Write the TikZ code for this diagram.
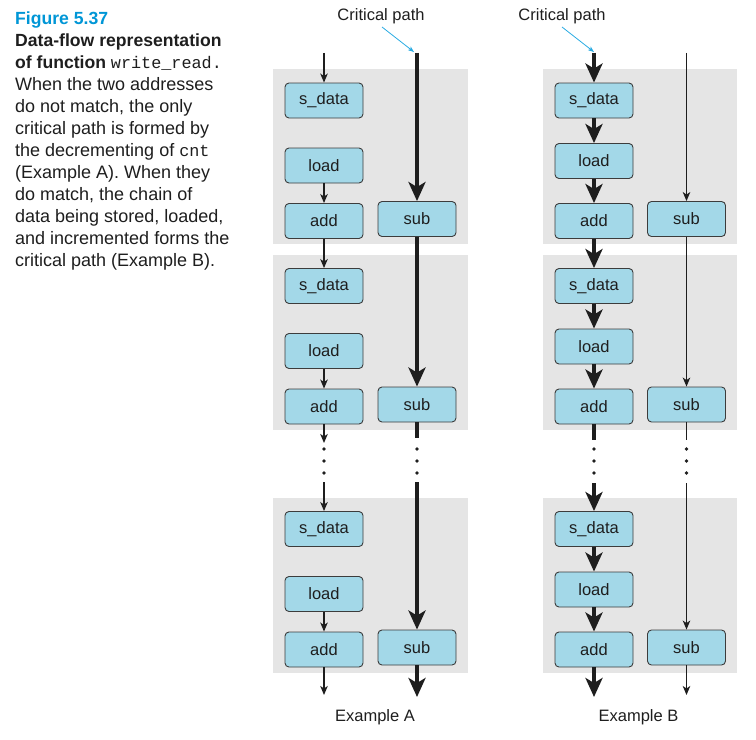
\documentclass[tikz,border=0pt]{standalone}
\usepackage{fontspec}
\setmainfont{Liberation Sans}
\newfontfamily\capmono{Liberation Mono}
\usetikzlibrary{arrows.meta}
\definecolor{boxfill}{RGB}{163,216,232}
\definecolor{panelgray}{RGB}{229,229,229}
\definecolor{figblue}{RGB}{0,150,214}
\definecolor{arrowblue}{RGB}{41,171,226}
\definecolor{boxborder}{RGB}{60,60,60}
\definecolor{ink}{RGB}{30,30,30}
\newcommand{\cmono}[1]{{\capmono\fontsize{16.8bp}{22bp}\selectfont #1}}
\tikzset{
  opbox/.style={draw=boxborder, fill=boxfill, rounded corners=4bp, minimum width=78bp,
    minimum height=35bp, inner sep=0pt, line width=0.9bp, text=ink,
    font=\fontsize{16.5bp}{19bp}\selectfont},
  panel/.style={fill=panelgray, draw=none},
  thinarr/.style={draw=ink, line width=1.3bp, -{Stealth[length=9bp,width=7.5bp,inset=2.5bp]}},
  thinline/.style={draw=ink, line width=1.3bp},
  thickarr/.style={draw=ink, line width=4bp, -{Stealth[length=19bp,width=17bp,inset=5bp]}},
  thickline/.style={draw=ink, line width=4bp},
  bluearr/.style={draw=arrowblue, line width=0.8bp, -{Stealth[length=6bp,width=4.5bp,inset=1.5bp]}},
  lbl/.style={font=\fontsize{16.5bp}{19bp}\selectfont, text=ink, inner sep=0pt},
  capbold/.style={anchor=base west, inner sep=0pt, text=ink, font=\fontsize{17.6bp}{22bp}\selectfont\bfseries},
  capline/.style={anchor=base west, inner sep=0pt, text=ink, font=\fontsize{18bp}{22bp}\selectfont},
  dotmark/.style={fill=ink, draw=none, circle, minimum size=3.6bp, inner sep=0pt},
}
\begin{document}
\begin{tikzpicture}[x=1bp, y=-1bp]
\useasboundingbox (0,0) rectangle (756,740);

% caption
\node[capbold, text=figblue] (c1) at (15,24.5) {Figure 5.37};
\node[capbold] (c2) at (15,46.5) {Data-flow representation};
\node[capbold] (c3) at (15,68.5) {of function \mdseries\cmono{write\_read.}};
\node[capline] (c4) at (15,90.5) {When the two addresses};
\node[capline] (c5) at (15,112.5) {do not match, the only};
\node[capline] (c6) at (15,134.5) {critical path is formed by};
\node[capline] (c7) at (15,156.5) {the decrementing of \cmono{cnt}};
\node[capline] (c8) at (15,178.5) {(Example A). When they};
\node[capline] (c9) at (15,200.5) {do match, the chain of};
\node[capline] (c10) at (15,222.5) {data being stored, loaded,};
\node[capline] (c11) at (15,244.5) {and incremented forms the};
\node[capline] (c12) at (15,266.5) {critical path (Example B).};

% panels
\foreach \r in {0,185.5,428.5} {
  \fill[panel] (273,69+\r) rectangle (468,244+\r);
  \fill[panel] (543,69+\r) rectangle (737,244+\r);
}

% nodes
\foreach \n/\r in {1/0,2/185.5,3/428.5} {
  \node[opbox] (A\n s) at (324,100.5+\r) {s\_data};
  \node[opbox] (A\n l) at (324,165.5+\r) {load};
  \node[opbox] (A\n a) at (324,221+\r) {add};
  \node[opbox] (A\n u) at (417,219+\r) {sub};
  \node[opbox] (B\n s) at (594,100.5+\r) {s\_data};
  \node[opbox] (B\n l) at (594,161+\r) {load};
  \node[opbox] (B\n a) at (594,221+\r) {add};
  \node[opbox] (B\n u) at (686.5,219+\r) {sub};
}

% free-end coordinates
\coordinate (Atl) at (324,53);
\coordinate (Atr) at (417,53);
\coordinate (Btl) at (594,53);
\coordinate (Btr) at (686.5,53);
\coordinate (Adl1) at (324,443);
\coordinate (Adl2) at (324,482);
\coordinate (Adr1) at (417,438);
\coordinate (Adr2) at (417,482);
\coordinate (Bdl1) at (594,440);
\coordinate (Bdl2) at (594,483);
\coordinate (Bdr1) at (686.5,440);
\coordinate (Bdr2) at (686.5,483);
\coordinate (Abl) at (324,695);
\coordinate (Abr) at (417,697);
\coordinate (Bbl) at (594,697);
\coordinate (Bbr) at (686.5,695);

% Example A connectors
\draw[thinarr] (Atl) -- (A1s);
\draw[thinarr] (A1l) -- (A1a);
\draw[thinarr] (A1a) -- (A2s);
\draw[thinarr] (A2l) -- (A2a);
\draw[thinarr] (A2a) -- (Adl1);
\draw[thinarr] (Adl2) -- (A3s);
\draw[thinarr] (A3l) -- (A3a);
\draw[thinarr] (A3a) -- (Abl);
\draw[thickarr] (Atr) -- (A1u);
\draw[thickarr] (A1u) -- (A2u);
\draw[thickline] (A2u) -- (Adr1);
\draw[thickarr] (Adr2) -- (A3u);
\draw[thickarr] (A3u) -- (Abr);

% Example B connectors
\draw[thickarr] (Btl) -- (B1s);
\draw[thickarr] (B1s) -- (B1l);
\draw[thickarr] (B1l) -- (B1a);
\draw[thickarr] (B1a) -- (B2s);
\draw[thickarr] (B2s) -- (B2l);
\draw[thickarr] (B2l) -- (B2a);
\draw[thickline] (B2a) -- (Bdl1);
\draw[thickarr] (Bdl2) -- (B3s);
\draw[thickarr] (B3s) -- (B3l);
\draw[thickarr] (B3l) -- (B3a);
\draw[thickarr] (B3a) -- (Bbl);
\draw[thinarr] (Btr) -- (B1u);
\draw[thinarr] (B1u) -- (B2u);
\draw[thinline] (B2u) -- (Bdr1);
\draw[thinarr] (Bdr2) -- (B3u);
\draw[thinarr] (B3u) -- (Bbr);

% ellipsis dots
\foreach \x/\c in {324/a,417/b,594/c,686.5/d} {
  \foreach \y/\k in {449/1,461/2,473/3} {
    \node[dotmark] (dot\c\k) at (\x,\y) {};
  }
}

% labels
\node[lbl] (cpA) at (381,16) {Critical path};
\node[lbl] (cpB) at (562,16) {Critical path};
\coordinate (cpAs) at (382,27);
\coordinate (cpBs) at (562,27);
\coordinate (cpAt) at (414,52);
\coordinate (cpBt) at (594,52);
\draw[bluearr] (cpAs) -- (cpAt);
\draw[bluearr] (cpBs) -- (cpBt);
\node[lbl] (exA) at (375,717) {Example A};
\node[lbl] (exB) at (638.5,717) {Example B};
\end{tikzpicture}
\end{document}
